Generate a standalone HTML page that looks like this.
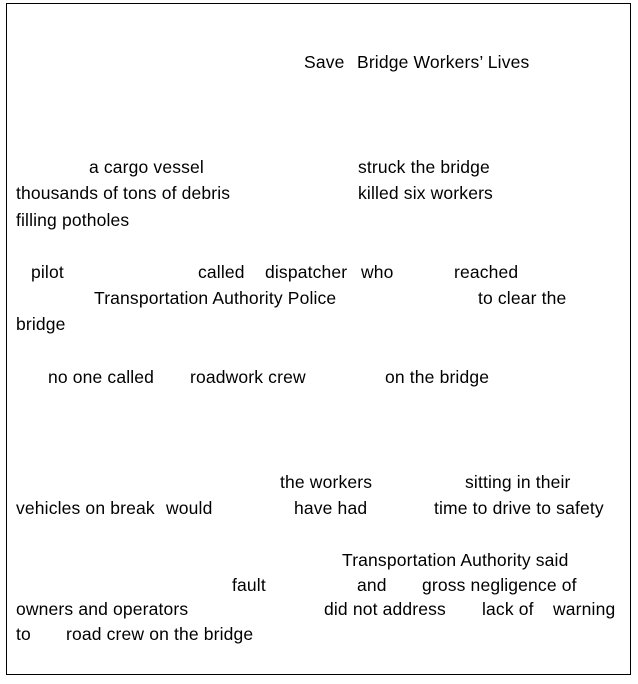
<!DOCTYPE html>
<html><head><meta charset="utf-8"><style>
body{margin:0;background:#fff;width:638px;height:684px;position:relative;overflow:hidden}
.b{position:absolute;left:6px;top:3px;width:625px;height:672px;border:1px solid #000;box-sizing:border-box}
span{position:absolute;font-family:"Liberation Sans",sans-serif;font-size:17.5px;line-height:18px;color:#000;white-space:nowrap;margin-top:0;letter-spacing:0.15px}
</style></head><body>
<div class="b"></div>
<span style="left:304px;top:53px">Save</span>
<span style="left:357px;top:53px">Bridge Workers’ Lives</span>
<span style="left:89px;top:158px">a cargo vessel</span>
<span style="left:358px;top:158px">struck the bridge</span>
<span style="left:16px;top:184px">thousands of tons of debris</span>
<span style="left:358px;top:184px">killed six workers</span>
<span style="left:16px;top:211px">filling potholes</span>
<span style="left:31px;top:263px">pilot</span>
<span style="left:198px;top:263px">called</span>
<span style="left:265px;top:263px">dispatcher</span>
<span style="left:361px;top:263px">who</span>
<span style="left:454px;top:263px">reached</span>
<span style="left:94px;top:289px">Transportation Authority Police</span>
<span style="left:478px;top:289px">to clear the</span>
<span style="left:16px;top:315px">bridge</span>
<span style="left:48px;top:368px">no one called</span>
<span style="left:190px;top:368px">roadwork crew</span>
<span style="left:385px;top:368px">on the bridge</span>
<span style="left:280px;top:473px">the workers</span>
<span style="left:465px;top:473px">sitting in their</span>
<span style="left:16px;top:499px">vehicles on break</span>
<span style="left:166px;top:499px">would</span>
<span style="left:294px;top:499px">have had</span>
<span style="left:434px;top:499px">time to drive to safety</span>
<span style="left:342px;top:551px">Transportation Authority said</span>
<span style="left:232px;top:576px">fault</span>
<span style="left:357px;top:576px">and</span>
<span style="left:422px;top:576px">gross negligence of</span>
<span style="left:16px;top:600px">owners and operators</span>
<span style="left:324px;top:600px">did not address</span>
<span style="left:482px;top:600px">lack of</span>
<span style="left:553px;top:600px">warning</span>
<span style="left:16px;top:625px">to</span>
<span style="left:66px;top:625px">road crew on the bridge</span>
</body></html>
